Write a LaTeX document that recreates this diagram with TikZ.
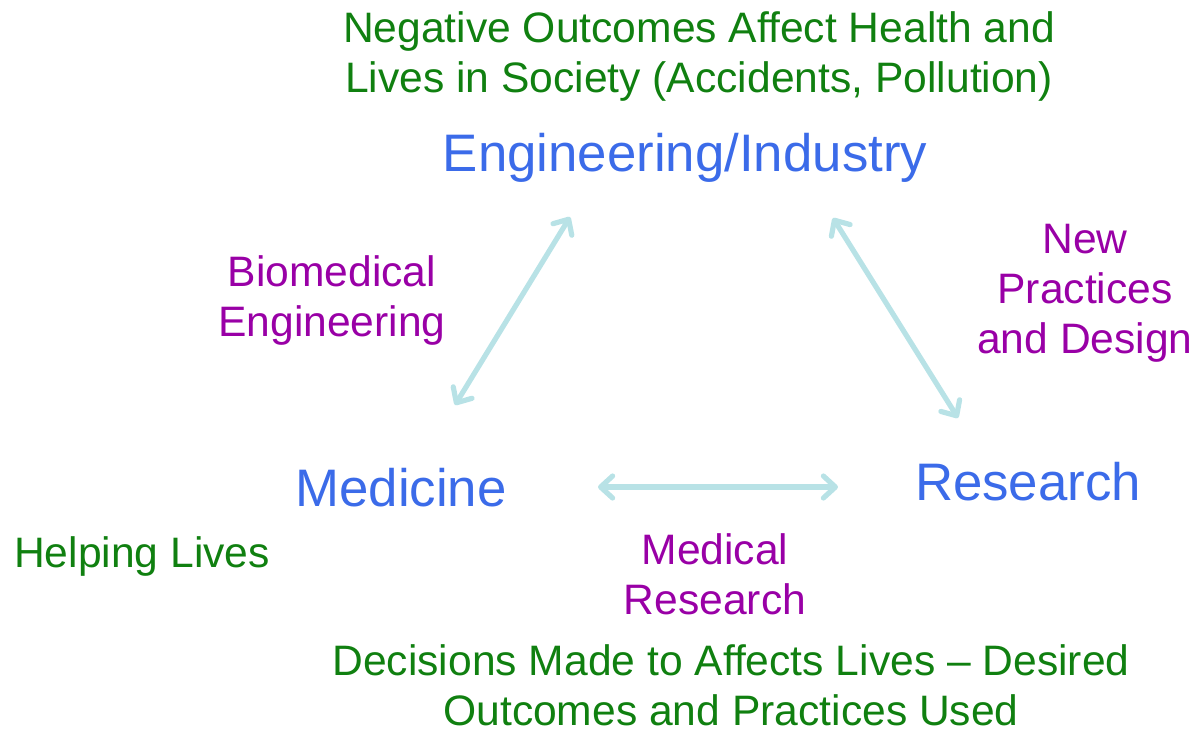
\documentclass[tikz,border=0pt]{standalone}
\usepackage{fontspec}
\setmainfont{Liberation Sans}
\usetikzlibrary{arrows.meta}
\definecolor{tblue}{RGB}{59,107,233}
\definecolor{tgreen}{RGB}{16,128,16}
\definecolor{tpurple}{RGB}{153,0,166}
\definecolor{tcyan}{RGB}{184,226,230}
\begin{document}
\begin{tikzpicture}[x=0.5pt,y=-0.5pt,
  main/.style={text=tblue,font=\fontsize{26.4}{32}\selectfont,inner sep=0pt},
  note/.style={text=tgreen,font=\fontsize{21.3}{25}\selectfont,align=center,inner sep=0pt},
  link/.style={text=tpurple,font=\fontsize{21.3}{25}\selectfont,align=center,inner sep=0pt},
  conn/.style={draw=tcyan,line width=2.6pt,line cap=round,
    {Straight Barb[length=6pt,width=11pt,line width=2.6pt,round]}-{Straight Barb[length=6pt,width=11pt,line width=2.6pt,round]}}]
\useasboundingbox (0,0) rectangle (1194,730);
\node[note] (neg) at (699,56) {Negative Outcomes Affect Health and\\Lives in Society (Accidents, Pollution)};
\node[main] (eng) at (685,158) {Engineering/Industry};
\node[link] (bio) at (332,300) {Biomedical\\Engineering};
\node[link] (new) at (1085,293) {New\\Practices\\and Design};
\node[main] (med) at (401,488) {Medicine};
\node[main] (res) at (1028,482) {Research};
\node[note] (help) at (142,556) {Helping Lives};
\node[link] (mres) at (715,574) {Medical\\Research};
\node[note] (dec) at (731,685) {Decisions Made to Affects Lives -- Desired\\Outcomes and Practices Used};
\coordinate (l1) at (455,405);
\coordinate (l2) at (570,217);
\coordinate (r1) at (833,218);
\coordinate (r2) at (958,418);
\coordinate (b1) at (598,487);
\coordinate (b2) at (838,487);
\draw[conn] (l1) -- (l2);
\draw[conn] (r1) -- (r2);
\draw[conn] (b1) -- (b2);
\end{tikzpicture}
\end{document}
